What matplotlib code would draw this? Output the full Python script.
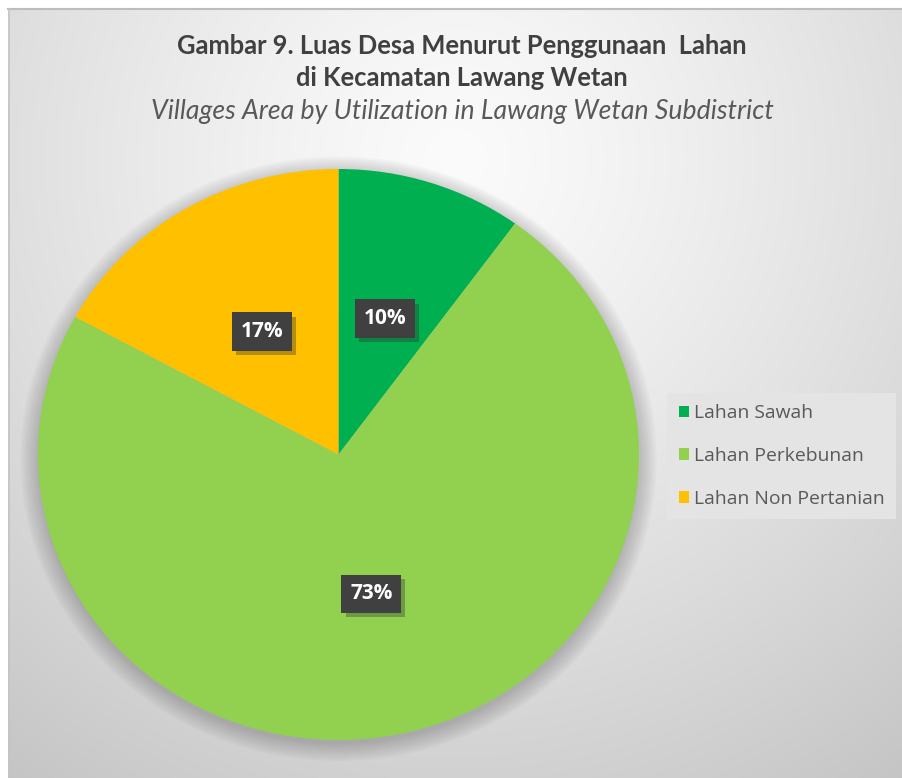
import numpy as np
import matplotlib
matplotlib.use("Agg")
import matplotlib.pyplot as plt
from matplotlib import patheffects as pe
from matplotlib.patches import Circle
from matplotlib.lines import Line2D

# ── data ────────────────────────────────────────────────────────────────
categories = ["Lahan Sawah", "Lahan Perkebunan", "Lahan Non Pertanian"]
shares = [10, 73, 17]
colors = ["#00B050", "#92D050", "#FFC000"]

title_id = "Gambar 9. Luas Desa Menurut Penggunaan  Lahan\ndi Kecamatan Lawang Wetan"
title_en = "Villages Area by Utilization in Lawang Wetan Subdistrict"

W, H = 903, 778
fig = plt.figure(figsize=(W / 100, H / 100), dpi=100)
fig.patch.set_facecolor("white")

# ── background: soft radial gradient, thin frame on top and left ─────────
bg = fig.add_axes([8 / W, 0, (W - 8) / W, (H - 9) / H])
yy, xx = np.mgrid[0:H - 9, 0:W - 8]
d = np.hypot(xx - 447, (yy - 150) * 1.0) / 760
g = np.clip(251 - 54 * d ** 1.25, 194, 251) / 255
bg.imshow(np.dstack([g, g, g]), aspect="auto", interpolation="bilinear")
bg.set_axis_off()
fig.add_artist(Line2D([8 / W, 1], [1 - 9 / H] * 2, transform=fig.transFigure,
                      color="#bdbdbd", lw=1.5))
fig.add_artist(Line2D([9 / W] * 2, [0, 1 - 9 / H], transform=fig.transFigure,
                      color="#c4c4c4", lw=1.2))

# ── pie (slightly elliptical like the source) ────────────────────────────
cx, cy, rx, ry = 338.5, H - 454.5, 300.5, 285.5
ax = fig.add_axes([(cx - rx) / W, (cy - ry) / H, 2 * rx / W, 2 * ry / H])

# soft drop shadow
for k in range(10):
    ax.add_patch(Circle((0, -0.015), 1.0 + 0.0065 * k, color="#4a4a4a",
                        alpha=0.03, lw=0, clip_on=False, zorder=0))

wedges, _, autotexts = ax.pie(
    shares, colors=colors, startangle=90, counterclock=False,
    autopct=lambda p: f"{p:.0f}%", pctdistance=0.5,
    wedgeprops=dict(lw=0),
    textprops=dict(color="white", fontsize=15, fontweight="bold", family="Open Sans"),
)
ax.set_aspect("auto")
ax.set_xlim(-1, 1)
ax.set_ylim(-1, 1)
ax.set_axis_off()

for t in autotexts:
    t.set_bbox(dict(boxstyle="square,pad=0.42", fc="#404040", ec="none"))
    t.get_bbox_patch().set_path_effects(
        [pe.SimplePatchShadow(offset=(3, -3), shadow_rgbFace="#303030", alpha=0.35), pe.Normal()])

# ── titles ─────────────────────────────────────────────────────────────
fig.text(462 / W, 1 - 62 / H, title_id, ha="center", va="center", fontsize=18.4,
         fontweight="bold", family="Lato", color="#404040", linespacing=1.4)
fig.text(462 / W, 1 - 111 / H, title_en, ha="center", va="center", fontsize=19.2,
         style="italic", family="Lato", color="#595959")

# ── legend ─────────────────────────────────────────────────────────────
leg = fig.legend(wedges, categories, loc="center left",
                 bbox_to_anchor=(667 / W, 1 - 456 / H),
                 prop=dict(family="Open Sans", size=13.9),
                 frameon=True, fancybox=False, handlelength=0.55, handleheight=0.55,
                 handletextpad=0.25, labelspacing=1.27, borderpad=0.6, borderaxespad=0)
leg.get_frame().set_facecolor("#e4e4e4")
leg.get_frame().set_edgecolor("none")
leg.get_frame().set_alpha(1)
for txt in leg.get_texts():
    txt.set_color("#595959")

fig.savefig("out.png", dpi=100)
